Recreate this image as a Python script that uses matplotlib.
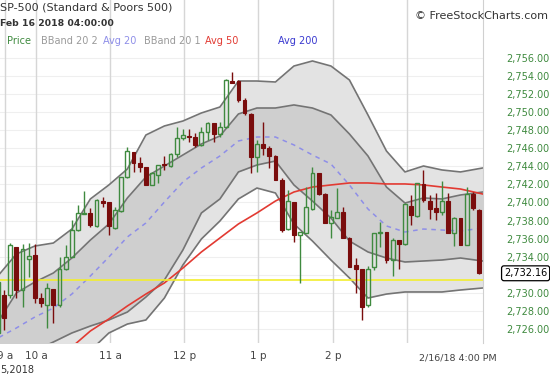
import matplotlib
matplotlib.use("Agg")
import matplotlib.pyplot as plt
import matplotlib.transforms as mtransforms

# 5-minute bars, 2/16/2018 (bar -1 is the last bar of 2/15)
bar_idx = list(range(-1, 78))
opens = [2725.6, 2729.76, 2729.76, 2735.03, 2730.31, 2733.74, 2734.19, 2729.39, 2728.65, 2730.38,
         2728.65, 2732.60, 2734.00, 2736.95, 2738.73, 2738.80, 2737.43, 2740.17, 2740.09, 2737.14,
         2739.09, 2742.79, 2745.63, 2744.41, 2743.97, 2741.94, 2743.04, 2744.23, 2744.04, 2745.33,
         2747.11, 2747.36, 2747.22, 2746.37, 2747.84, 2748.84, 2747.59, 2748.40, 2753.45, 2753.49,
         2751.35, 2749.76, 2745.00, 2746.44, 2746.00, 2745.19, 2742.49, 2737.03, 2740.09, 2736.40,
         2736.58, 2739.28, 2743.23, 2740.90, 2737.69, 2738.32, 2738.98, 2736.10, 2733.08, 2732.60,
         2728.65, 2732.82, 2736.58, 2736.70, 2733.63, 2735.85, 2735.37, 2739.65, 2738.54, 2742.05,
         2740.20, 2739.35, 2738.98, 2740.20, 2736.58, 2738.25, 2735.29, 2740.90, 2739.17]
highs = [2731.4, 2730.31, 2735.55, 2735.11, 2735.37, 2735.55, 2735.37, 2729.94, 2731.05, 2730.38,
         2734.00, 2735.29, 2738.06, 2739.72, 2741.27, 2739.35, 2740.35, 2740.65, 2740.09, 2739.54,
         2742.86, 2746.11, 2745.63, 2745.07, 2743.97, 2743.41, 2744.15, 2745.15, 2745.44, 2748.40,
         2748.10, 2748.10, 2747.66, 2748.40, 2748.95, 2748.84, 2748.95, 2753.64, 2754.49, 2753.57,
         2751.53, 2749.87, 2746.92, 2748.95, 2746.26, 2745.26, 2742.68, 2741.38, 2740.09, 2736.77,
         2741.75, 2743.97, 2743.23, 2741.01, 2739.17, 2741.57, 2739.54, 2736.22, 2733.82, 2732.60,
         2732.97, 2736.58, 2737.88, 2736.70, 2736.03, 2735.85, 2739.91, 2740.83, 2742.12, 2743.60,
         2740.83, 2741.01, 2742.42, 2741.01, 2738.43, 2738.25, 2741.75, 2741.20, 2739.30]
lows = [2725.0, 2725.88, 2729.39, 2729.39, 2728.39, 2731.79, 2728.83, 2728.46, 2726.06, 2726.62,
        2728.46, 2732.52, 2734.00, 2736.88, 2738.73, 2737.32, 2737.32, 2739.54, 2736.40, 2737.06,
        2738.98, 2742.68, 2743.41, 2743.41, 2741.94, 2741.94, 2742.12, 2743.60, 2743.97, 2745.07,
        2746.92, 2746.74, 2746.11, 2746.29, 2746.92, 2746.74, 2747.29, 2748.21, 2753.20, 2751.17,
        2749.69, 2743.23, 2743.41, 2745.26, 2743.78, 2742.49, 2736.77, 2736.95, 2735.66, 2731.05,
        2736.58, 2739.17, 2740.83, 2737.69, 2736.03, 2738.25, 2736.03, 2732.89, 2729.94, 2726.99,
        2728.46, 2732.52, 2735.11, 2733.26, 2731.90, 2732.60, 2735.29, 2737.51, 2738.43, 2740.09,
        2738.13, 2738.06, 2738.61, 2736.58, 2735.18, 2735.29, 2735.29, 2739.17, 2732.10]
closes = [2731.2, 2727.17, 2735.29, 2730.31, 2734.85, 2734.07, 2729.39, 2728.83, 2730.49, 2728.65,
          2732.63, 2734.00, 2736.95, 2738.80, 2738.87, 2737.51, 2740.28, 2739.98, 2737.43, 2739.17,
          2742.79, 2745.74, 2744.34, 2743.97, 2741.94, 2743.23, 2744.15, 2744.12, 2745.33, 2747.11,
          2747.47, 2747.22, 2746.37, 2747.84, 2748.84, 2747.59, 2748.40, 2753.57, 2753.27, 2751.35,
          2749.87, 2745.00, 2746.48, 2746.00, 2745.19, 2742.49, 2736.95, 2740.17, 2736.40, 2736.70,
          2739.54, 2743.23, 2740.90, 2737.69, 2738.36, 2738.98, 2736.10, 2732.89, 2732.60, 2728.39,
          2732.60, 2736.58, 2736.77, 2733.63, 2735.85, 2735.37, 2739.83, 2738.61, 2742.12, 2740.28,
          2739.24, 2738.98, 2740.20, 2736.66, 2738.32, 2735.29, 2740.90, 2739.35, 2732.16]

# indicator readings at these bar positions
band_idx = [-1, 2, 5, 8, 11, 14, 17, 20, 23, 26, 29, 32, 35, 38, 41, 44, 47, 50, 53, 56,
            59, 62, 65, 68, 71, 74, 77.6]
bb2_upper = [2731.86, 2734.29, 2735.18, 2735.51, 2737.06, 2740.39, 2741.94, 2743.71, 2747.47, 2748.47,
             2749.02, 2749.91, 2750.57, 2753.45, 2753.45, 2753.34, 2755.11, 2755.67, 2755.11, 2753.56,
             2749.69, 2745.70, 2743.38, 2744.04, 2743.60, 2743.38, 2743.82]
bb1_upper = [2726.76, 2729.98, 2731.19, 2732.19, 2733.85, 2735.84, 2737.62, 2740.50, 2742.82, 2744.04,
             2745.26, 2746.48, 2747.36, 2749.80, 2750.46, 2750.46, 2750.80, 2750.46, 2749.69, 2747.58,
             2745.15, 2741.71, 2739.94, 2740.50, 2740.39, 2740.83, 2741.16]
avg20 = [2724.99, 2726.10, 2727.32, 2728.31, 2729.86, 2731.86, 2733.96, 2736.18, 2737.73, 2740.05,
         2742.27, 2743.82, 2745.15, 2746.81, 2747.25, 2747.25, 2746.37, 2745.26, 2744.26, 2741.94,
         2739.28, 2737.40, 2736.73, 2737.06, 2736.95, 2736.84, 2737.17]
bb1_lower = [2722.0, 2722.8, 2723.6, 2724.55, 2725.55, 2726.32, 2726.99, 2727.87, 2729.53, 2731.42,
             2734.74, 2738.84, 2740.39, 2743.38, 2744.15, 2744.59, 2741.94, 2740.16, 2738.28, 2735.73,
             2734.52, 2733.85, 2733.41, 2733.52, 2733.63, 2733.85, 2733.52]
bb2_lower = [2720.0, 2720.5, 2721.0, 2721.5, 2722.5, 2723.6, 2725.55, 2726.54, 2726.99, 2729.42,
             2733.08, 2735.96, 2737.95, 2740.39, 2741.60, 2741.05, 2737.62, 2735.73, 2733.63, 2731.64,
             2729.42, 2729.86, 2730.09, 2730.09, 2730.09, 2730.31, 2730.53]
avg50_idx = [11, 14, 17, 20, 23, 26, 29, 32, 35, 38, 41, 44, 47, 50, 53, 56, 59, 62, 65, 68, 71, 74, 77.6]
avg50 = [2724.0, 2725.77, 2727.10, 2728.54, 2729.86, 2731.09, 2732.74, 2734.52, 2736.07, 2737.62,
         2738.84, 2740.16, 2741.16, 2741.71, 2741.94, 2742.16, 2742.16, 2742.05, 2742.05, 2741.94,
         2741.71, 2741.49, 2740.94]
hline_price = 2731.42
last_price = 2732.16

hour_pos = [0.15, 5.2, 17.2, 29.2, 41.2, 53.3, 65.3]
hour_labels = ["9 a", "10 a", "11 a", "12 p", "1 p", "2 p", ""]
price_ticks = list(range(2726, 2757, 2))
shown_ticks = [p for p in price_ticks if p != 2732]  # hidden behind the last-price box

GREEN = "#3f8a3f"
RED = "#7a0d0d"

fig = plt.figure(figsize=(5.5, 3.78), dpi=100)
ax = fig.add_axes([0, 1 - 343 / 378, 483 / 550, 343 / 378])
ax.set_xlim(-0.65, 77.65)
ax.set_ylim(2724.44, 2762.42)

for p in price_ticks:
    ax.axhline(p, color="#efefef", lw=0.8, zorder=0)
for h in hour_pos:
    ax.axvline(h, color="#d6d6d6", lw=1.0, zorder=0)

ax.fill_between(band_idx, bb2_lower, bb2_upper, color="#e3e3e3", lw=0, zorder=1)
ax.fill_between(band_idx, bb1_lower, bb1_upper, color="#cfcfcf", lw=0, zorder=1)
for band in (bb2_upper, bb1_upper, bb1_lower, bb2_lower):
    ax.plot(band_idx, band, color="#747474", lw=1.2, zorder=2)
ax.plot(band_idx, avg20, color="#8e8ee8", lw=1.1, ls=(0, (3, 3)), zorder=2)
ax.plot(avg50_idx, avg50, color="#e23a32", lw=1.2, zorder=3)
ax.axhline(hline_price, color="#f2ee2e", lw=1.2, zorder=3)

w = 0.62
for k, o, h, l, c in zip(bar_idx, opens, highs, lows, closes):
    top, bot = max(o, c), min(o, c)
    if c >= o:
        ax.vlines(k, top, h, color=GREEN, lw=1.0, zorder=4)
        ax.vlines(k, l, bot, color=GREEN, lw=1.0, zorder=4)
        ax.add_patch(plt.Rectangle((k - w / 2, bot), w, max(top - bot, 0.08),
                                   facecolor="none", edgecolor=GREEN, lw=1.0, zorder=5))
    else:
        ax.vlines(k, l, h, color=RED, lw=1.0, zorder=4)
        ax.add_patch(plt.Rectangle((k - w / 2, bot), w, max(top - bot, 0.08),
                                   facecolor=RED, edgecolor=RED, lw=0.8, zorder=5))

for s in ("top", "left", "bottom"):
    ax.spines[s].set_visible(False)
ax.spines["right"].set_color("#d0d0d0")

ax.yaxis.tick_right()
ax.set_yticks(shown_ticks)
ax.set_yticklabels([f"{p:,.2f}" for p in shown_ticks], color=GREEN, fontsize=7)
ax.tick_params(axis="y", length=0, pad=17)
ax.set_xticks(hour_pos)
ax.set_xticklabels(hour_labels, color="#444444", fontsize=7.5)
ax.tick_params(axis="x", length=0, pad=6)

trans = mtransforms.blended_transform_factory(fig.transFigure, ax.transData)
ax.text(504 / 550, last_price, "2,732.16", transform=trans, fontsize=7, color="black",
        va="center", ha="left", clip_on=False,
        bbox=dict(boxstyle="round,pad=0.25", fc="white", ec="black", lw=0.9))

fig.text(458 / 550, 1 - 358 / 378, "2/16/18 4:00 PM", fontsize=6.8, color="#444444",
         ha="center", va="center")
fig.text(0, 1 - 370 / 378, "5,2018", fontsize=7, color="#333333", va="center")

fig.text(0, 1 - 8 / 378, "SP-500 (Standard & Poors 500)", fontsize=8, color="#333333", va="center")
fig.text(0, 1 - 23 / 378, "Feb 16 2018 04:00:00", fontsize=6.7, color="#333333",
         va="center", fontweight="bold")
fig.text(548 / 550, 1 - 16 / 378, "\u00a9 FreeStockCharts.com", fontsize=8, color="#333333",
         va="center", ha="right")

legend_items = [("Price", 7, "#3f8a3f"), ("BBand 20 2", 41, "#9a9a9a"), ("Avg 20", 103, "#8e8ee8"),
                ("BBand 20 1", 144, "#9a9a9a"), ("Avg 50", 205, "#e23a32"), ("Avg 200", 278, "#3a3ad0")]
for name, xpos, col in legend_items:
    fig.text(xpos / 550, 1 - 41 / 378, name, fontsize=7, color=col, va="center")

fig.savefig("out.png", dpi=100)
